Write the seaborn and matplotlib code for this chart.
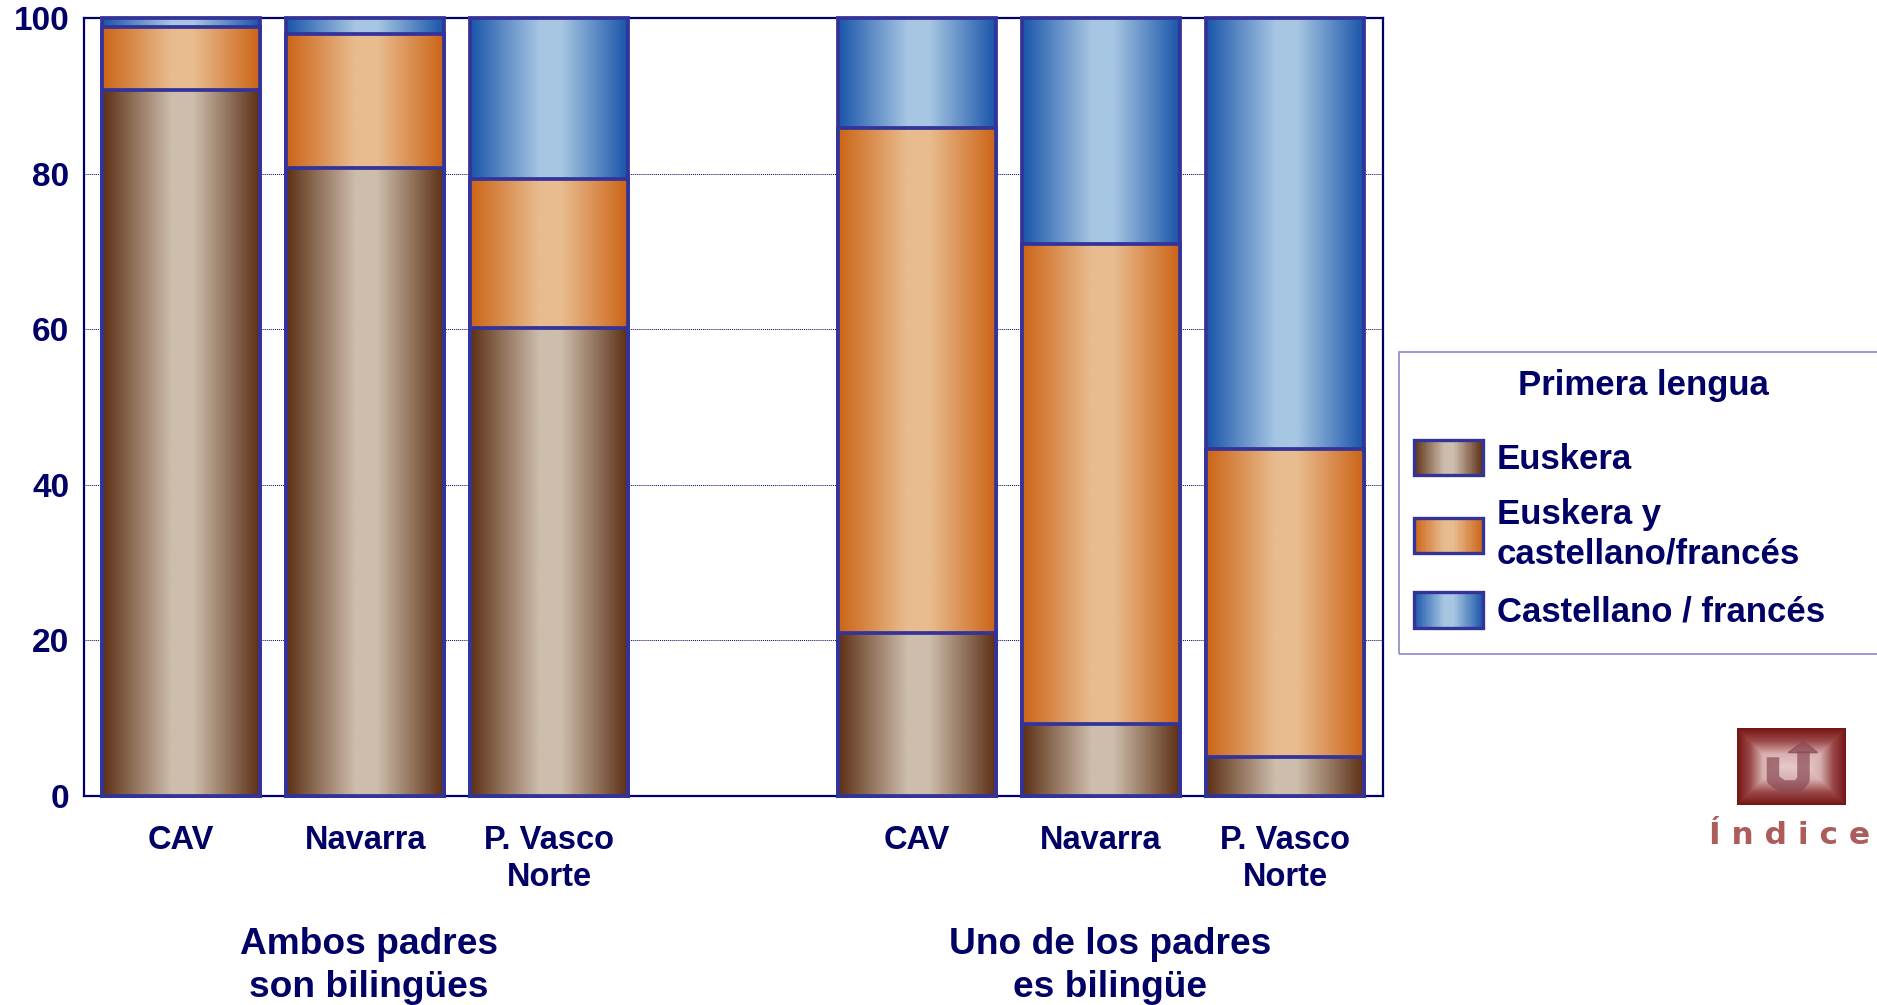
import numpy as np
import pandas as pd
import matplotlib
matplotlib.use("Agg")
import matplotlib.pyplot as plt
import seaborn as sns
from matplotlib.colors import LinearSegmentedColormap
from matplotlib.legend_handler import HandlerPatch
from matplotlib.patches import Patch, Rectangle

W, H = 1877, 1005

slots = ["a_cav", "a_nav", "a_pvn", "blank", "u_cav", "u_nav", "u_pvn"]
tick_labels = ["CAV", "Navarra", "P. Vasco\nNorte", "", "CAV", "Navarra", "P. Vasco\nNorte"]
bar_slots = ["a_cav", "a_nav", "a_pvn", "u_cav", "u_nav", "u_pvn"]
euskera = [90.7, 80.7, 60.1, 21, 9.3, 5]
ambas = [8.1, 17.3, 19.2, 64.9, 61.7, 39.6]
castellano = [1.2, 2, 20.7, 14.1, 29, 55.4]
y_ticks = [0, 20, 40, 60, 80, 100]
series_names = ["Euskera", "Euskera y\ncastellano/francés", "Castellano / francés"]

NAVY = "#000066"
EDGE = "#333399"
stops = [0, 0.44, 0.58, 1]
ramps = {
    "Euskera": ["#5c3015", "#cdbdac"],
    "Euskera y\ncastellano/francés": ["#cc6416", "#e8bc8f"],
    "Castellano / francés": ["#1a55aa", "#a6c6e2"],
}


def make_cmap(dark, light):
    return LinearSegmentedColormap.from_list(
        "bar", list(zip(stops, [dark, light, light, dark])))


class GradientHandler(HandlerPatch):
    def create_artists(self, legend, orig_handle, xd, yd, width, height, fontsize, trans):
        cmap = orig_handle.gradient
        n = 50
        artists = []
        for i in range(n):
            r = Rectangle((-xd + width * i / n, -yd), width / n + 0.3, height,
                          facecolor=cmap((i + 0.5) / n), edgecolor="none", transform=trans)
            artists.append(r)
        artists.append(Rectangle((-xd, -yd), width, height, facecolor="none",
                                 edgecolor=EDGE, linewidth=2.4, transform=trans))
        return artists


sns.set_theme(style="white")
plt.rcParams["font.family"] = ["Liberation Sans", "DejaVu Sans"]

fig = plt.figure(figsize=(W / 100, H / 100), dpi=100, facecolor="white")
ax = fig.add_axes([84 / W, 1 - 796 / H, (1383 - 84) / W, (796 - 18) / H])

# stacked by drawing the running totals back to front
tops_e = np.array(euskera)
tops_a = tops_e + np.array(ambas)
tops_c = tops_a + np.array(castellano)
layers = [
    ("Castellano / francés", tops_c),
    ("Euskera y\ncastellano/francés", tops_a),
    ("Euskera", tops_e),
]

grad = np.linspace(0, 1, 256).reshape(1, -1)
for k, (name, tops) in enumerate(layers):
    df = pd.DataFrame({"slot": bar_slots, "valor": tops})
    n_before = len(ax.patches)
    sns.barplot(data=df, x="slot", y="valor", order=slots, color="white", width=0.857,
                edgecolor=EDGE, linewidth=2.7, errorbar=None, ax=ax)
    cmap = make_cmap(*ramps[name])
    for p in ax.patches[n_before:]:
        if not np.isfinite(p.get_height()) or p.get_height() == 0:
            continue
        p.set_facecolor("none")
        p.set_zorder(3.5 + k)
        p.set_clip_on(False)
        ax.imshow(grad, cmap=cmap, aspect="auto", zorder=3 + k,
                  extent=[p.get_x(), p.get_x() + p.get_width(), 0, p.get_height()])

ax.set_xlim(-0.528, 6.532)
ax.set_ylim(0, 100)
ax.set_xlabel("")
ax.set_ylabel("")
ax.set_yticks(y_ticks)
ax.set_xticks(range(len(slots)))
ax.set_xticklabels(tick_labels, fontsize=23.5, fontweight="bold", color=NAVY, linespacing=1.25)
ax.set_yticklabels([str(v) for v in y_ticks], fontsize=24, fontweight="bold", color=NAVY)
ax.tick_params(axis="x", length=0, pad=21)
ax.tick_params(axis="y", length=0, pad=10.5)
ax.set_axisbelow(True)
ax.yaxis.grid(True, color=NAVY, linestyle=(0, (1, 1)), linewidth=0.7)
ax.xaxis.grid(False)
for spine in ax.spines.values():
    spine.set_color(NAVY)
    spine.set_linewidth(1.6)

for x, label in [(1.02, "Ambos padres\nson bilingües"), (5.05, "Uno de los padres\nes bilingüe")]:
    ax.text(x, -0.218, label, transform=ax.get_xaxis_transform(), ha="center", va="center",
            fontsize=26.7, fontweight="bold", color=NAVY, linespacing=1.3)

# legend box runs off the right edge of the figure, so it is drawn apart from the entries
fig.add_artist(Rectangle((1399 / W, 1 - 654 / H), (1895 - 1399) / W, (654 - 352) / H,
                         transform=fig.transFigure, facecolor="none",
                         edgecolor="#8a8ac8", linewidth=1.2, zorder=-1))

handles = []
for name in series_names:
    h = Patch(label=name)
    h.gradient = make_cmap(*ramps[name])
    handles.append(h)
leg = ax.legend(handles=handles, title="Primera lengua",
                handler_map={Patch: GradientHandler()},
                loc="upper left", mode="expand",
                bbox_to_anchor=(1399 / W, 1 - 654 / H, (1888 - 1399) / W, (654 - 354.5) / H),
                bbox_transform=fig.transFigure, borderaxespad=0, borderpad=0.42,
                prop={"size": 25, "weight": "bold"},
                title_fontproperties={"size": 25, "weight": "bold"},
                handlelength=2.0, handleheight=1.2, handletextpad=0.39, labelspacing=0.62,
                frameon=False)
leg._legend_box.sep = 27
leg.get_title().set_color(NAVY)
for t in leg.get_texts():
    t.set_color(NAVY)
    t.set_linespacing(1.28)

# "Índice" button
logo = fig.add_axes([1737 / W, 1 - 805 / H, 109 / W, 77 / H])
yy, xx = np.mgrid[0:1:77j, 0:1:109j]
bevel = np.minimum(np.minimum(xx, 1 - xx) * 109 / 77, np.minimum(yy, 1 - yy))
logo_cmap = LinearSegmentedColormap.from_list("logo", ["#761616", "#9c4a4a", "#d8b0b0", "#e6c8c8"])
logo.imshow(bevel / bevel.max(), cmap=logo_cmap, extent=[0, 1, 0, 1], aspect="auto")
logo.plot([0.33, 0.33, 0.42, 0.56, 0.61, 0.61], [0.62, 0.33, 0.24, 0.24, 0.33, 0.7],
          color="#8a4a55", linewidth=9, alpha=0.7, solid_capstyle="butt")
logo.fill([0.47, 0.61, 0.74], [0.68, 0.83, 0.68], color="#8a4a55", alpha=0.7)
logo.set_xlim(0, 1)
logo.set_ylim(0, 1)
logo.axis("off")
fig.text(1790 / W, 1 - 836 / H, "Í n d i c e", ha="center", va="center",
         fontsize=22.5, fontweight="bold", color="#ad5c5c", family=["DejaVu Sans"])

fig.savefig("out.png", dpi=100)
